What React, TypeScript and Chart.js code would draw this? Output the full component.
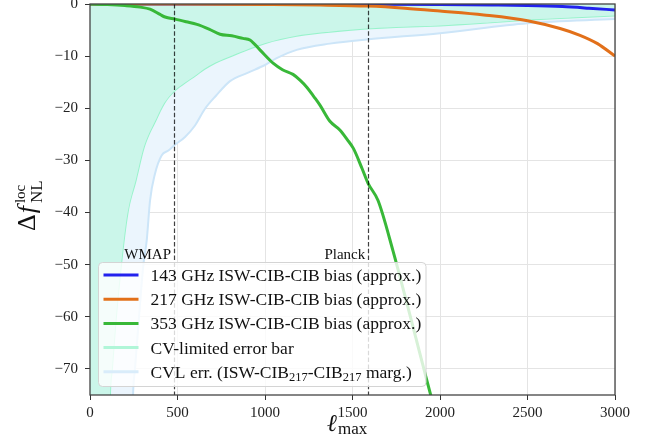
import React, { useEffect, useRef } from "react";
import { Chart, registerables } from "chart.js";
Chart.register(...registerables);

const SERIF = '"Liberation Serif", "DejaVu Serif", serif';

const xTicks = [0, 500, 1000, 1500, 2000, 2500, 3000];
const yTicks = [0, -10, -20, -30, -40, -50, -60, -70];

// 143 GHz ISW-CIB-CIB bias
const ell143 = [0, 500, 1000, 1500, 2000, 2300, 2500, 2700, 2850, 3000];
const bias143 = [0, 0, -0.02, -0.05, -0.1, -0.2, -0.3, -0.5, -0.8, -1.15];

// 217 GHz ISW-CIB-CIB bias
const ell217 = [0, 500, 1000, 1314, 1589, 1800, 2000, 2250, 2500, 2686, 2800, 2900, 3000];
const bias217 = [0, -0.02, -0.1, -0.2, -0.4, -0.8, -1.35, -2.1, -3.2, -4.7, -6.0, -7.6, -10.0];

// 353 GHz ISW-CIB-CIB bias
const ell353 = [0, 100, 200, 286, 343, 400, 429, 486, 550, 611, 680, 743, 810, 874, 914, 971, 1048, 1100, 1160, 1200, 1240, 1280, 1314, 1371, 1429, 1470, 1505, 1554, 1589, 1646, 1731, 1800, 1900, 1950, 2000];
const bias353 = [0, -0.1, -0.3, -0.6, -1.0, -2.0, -2.5, -2.9, -3.4, -3.9, -4.8, -5.8, -6.1, -6.6, -6.9, -8.8, -11.4, -12.6, -13.5, -14.6, -16.0, -17.8, -19.4, -22.5, -24.2, -26.0, -27.7, -31.5, -34.4, -37.7, -47.3, -56.0, -69.0, -75.4, -82.0];

// CV-limited error bar
const ellCV = [0, 60, 100, 120, 131, 154, 183, 219, 267, 314, 381, 429, 482, 543, 600, 657, 720, 819, 900, 1000, 1181, 1371, 1581, 1750, 2000, 2250, 2500, 2750, 3000];
const errCV = [-5000, -400, -110, -75, -70, -60, -50, -40.3, -33.8, -27.4, -22.3, -19.1, -16.9, -15.3, -14.0, -12.6, -11.4, -10.0, -8.9, -7.7, -6.3, -5.5, -4.9, -4.6, -4.3, -3.8, -3.2, -2.8, -2.4];

// CVL err. (ISW-CIB217-CIB217 marg.)
const ellCVL = [0, 150, 200, 246, 257, 280, 305, 324, 343, 371, 410, 448, 482, 543, 600, 657, 720, 800, 900, 1000, 1067, 1181, 1371, 1581, 2000, 2500, 3000];
const errCVL = [-8000, -400, -150, -75, -70, -60, -50, -45.4, -37.7, -32.6, -29.0, -28.1, -27.1, -25.5, -23.3, -20.1, -17.6, -14.8, -13.2, -11.7, -10.4, -8.8, -7.6, -6.8, -5.6, -3.7, -2.9];

const refLines = [480, 1590];
const refLabels = ["WMAP", "Planck"];

const legendLabels: Array<Array<[string, boolean]>> = [
  [["143 GHz ISW-CIB-CIB bias (approx.)", false]],
  [["217 GHz ISW-CIB-CIB bias (approx.)", false]],
  [["353 GHz ISW-CIB-CIB bias (approx.)", false]],
  [["CV-limited error bar", false]],
  [["CVL err. (ISW-CIB", false], ["217", true], ["-CIB", false], ["217", true], [" marg.)", false]],
];

const C143 = "#2222ee";
const C217 = "#e2701a";
const C353 = "#38b838";
const CCV = "#98f3cb";
const CCV_FILL = "#cbf6ea";
const CCVL = "#cce5f8";
const CCVL_FILL = "#ebf5fd";

const legendStyles = [
  { color: C143, width: 3 },
  { color: C217, width: 3 },
  { color: C353, width: 3 },
  { color: "#b0f6d8", width: 3 },
  { color: "#d9ecfa", width: 3 },
];

const pts = (xs: number[], ys: number[]) => xs.map((x, i) => ({ x, y: ys[i] }));

const overlay = {
  id: "overlay",
  afterDatasetsDraw(chart: any) {
    const { ctx, chartArea: a, scales } = chart;
    const x = scales.x;
    ctx.save();
    ctx.setLineDash([4.5, 2.3]);
    ctx.strokeStyle = "rgba(0,0,0,0.75)";
    ctx.lineWidth = 1.2;
    refLines.forEach((v) => {
      const px = Math.round(x.getPixelForValue(v)) + 0.5;
      ctx.beginPath();
      ctx.moveTo(px, a.top);
      ctx.lineTo(px, a.bottom);
      ctx.stroke();
    });
    ctx.setLineDash([]);
    ctx.fillStyle = "#111";
    ctx.font = `15px ${SERIF}`;
    ctx.textAlign = "right";
    ctx.textBaseline = "alphabetic";
    refLabels.forEach((t, i) => {
      ctx.fillText(t, x.getPixelForValue(refLines[i]) - 3, a.top + 255);
    });
    ctx.strokeStyle = "#444";
    ctx.lineWidth = 1.3;
    ctx.strokeRect(a.left, a.top, a.right - a.left, a.bottom - a.top);
    ctx.restore();
  },
  afterDraw(chart: any) {
    const { ctx, chartArea: a } = chart;
    ctx.save();
    // legend
    const lx = a.left + 8.5, ly = a.bottom - 132.5, lw = 327.5, lh = 124;
    ctx.beginPath();
    ctx.roundRect(lx, ly, lw, lh, 4);
    ctx.fillStyle = "rgba(255,255,255,0.8)";
    ctx.fill();
    ctx.strokeStyle = "#d4d4d4";
    ctx.lineWidth = 1;
    ctx.stroke();
    legendLabels.forEach((parts, i) => {
      const cy = ly + 12.5 + i * 24.2;
      const st = legendStyles[i];
      ctx.strokeStyle = st.color;
      ctx.lineWidth = st.width;
      ctx.beginPath();
      ctx.moveTo(lx + 5, cy);
      ctx.lineTo(lx + 40, cy);
      ctx.stroke();
      let tx = lx + 52;
      ctx.fillStyle = "#111";
      ctx.textAlign = "left";
      ctx.textBaseline = "alphabetic";
      parts.forEach(([t, sub]) => {
        ctx.font = sub ? `12.5px ${SERIF}` : `17.5px ${SERIF}`;
        ctx.fillText(t, tx, cy + 6 + (sub ? 3.5 : 0));
        tx += ctx.measureText(t).width;
      });
    });
    // y-axis title
    ctx.save();
    ctx.translate(35, 231);
    ctx.rotate(-Math.PI / 2);
    ctx.fillStyle = "#111";
    ctx.textAlign = "left";
    ctx.textBaseline = "alphabetic";
    let px = 0;
    ctx.font = `26px ${SERIF}`;
    ctx.fillText("\u0394", px, 0);
    px += ctx.measureText("\u0394").width + 1;
    ctx.font = `italic 26px ${SERIF}`;
    ctx.fillText("f", px, 0);
    px += ctx.measureText("f").width + 3;
    ctx.font = `15px ${SERIF}`;
    ctx.fillText("loc", px, -10);
    ctx.font = `17px ${SERIF}`;
    ctx.fillText("NL", px, 7);
    ctx.restore();
    // x-axis title
    ctx.fillStyle = "#111";
    ctx.textAlign = "left";
    ctx.font = `italic 24px ${SERIF}`;
    const xs = 327;
    ctx.fillText("\u2113", xs, 431);
    const w = ctx.measureText("\u2113").width;
    ctx.font = `17px ${SERIF}`;
    ctx.fillText("max", xs + w + 1, 434);
    ctx.restore();
  },
};

export default function App() {
  const ref = useRef<HTMLCanvasElement>(null);
  useEffect(() => {
    document.body.style.margin = "0";
    const canvas = ref.current!;
    const tickFont = { family: SERIF, size: 15 };
    const chart = new Chart(canvas, {
      type: "line",
      data: {
        datasets: [
          { label: "143", data: pts(ell143, bias143), borderColor: C143, borderWidth: 3, pointRadius: 0, fill: false, cubicInterpolationMode: "monotone", order: 2 },
          { label: "217", data: pts(ell217, bias217), borderColor: C217, borderWidth: 3, pointRadius: 0, fill: false, cubicInterpolationMode: "monotone", order: 1 },
          { label: "353", data: pts(ell353, bias353), borderColor: C353, borderWidth: 3, pointRadius: 0, fill: false, cubicInterpolationMode: "monotone", order: 0 },
          { label: "CV", data: pts(ellCV, errCV), borderColor: CCV, backgroundColor: CCV_FILL, borderWidth: 2, pointRadius: 0, fill: "end", cubicInterpolationMode: "monotone", order: 4 },
          { label: "CVL", data: pts(ellCVL, errCVL), borderColor: CCVL, backgroundColor: CCVL_FILL, borderWidth: 2, pointRadius: 0, fill: 3, cubicInterpolationMode: "monotone", order: 3 },
        ],
      },
      options: {
        animation: false,
        responsive: false,
        devicePixelRatio: 1,
        parsing: false,
        layout: { padding: { top: 4, right: 39, left: 0, bottom: 0 } },
        plugins: { legend: { display: false }, tooltip: { enabled: false } },
        scales: {
          x: {
            type: "linear",
            min: 0,
            max: 3000,
            afterBuildTicks: (s: any) => { s.ticks = xTicks.map((v) => ({ value: v })); },
            afterFit: (s: any) => { s.height = 53; s.paddingLeft = 0; s.paddingRight = 0; },
            ticks: { font: tickFont, color: "#222", padding: 4, maxRotation: 0, callback: (v: any) => String(v) },
            grid: { color: "#e4e4e4", lineWidth: 1, tickLength: 5, tickColor: "#333", drawOnChartArea: true },
            border: { display: false },
          },
          y: {
            type: "linear",
            min: -75,
            max: 0,
            afterBuildTicks: (s: any) => { s.ticks = yTicks.map((v) => ({ value: v })); },
            afterFit: (s: any) => { s.width = 90; s.paddingTop = 0; s.paddingBottom = 0; },
            ticks: { font: tickFont, color: "#222", padding: 7, callback: (v: any) => (v < 0 ? "\u2212" + Math.abs(v) : String(v)) },
            grid: { color: "#e4e4e4", lineWidth: 1, tickLength: 5, tickColor: "#333", drawOnChartArea: true },
            border: { display: false },
          },
        },
      },
      plugins: [overlay],
    } as any);
    return () => chart.destroy();
  }, []);
  return (
    <div style={{ position: "absolute", left: 0, top: 0, width: 654, height: 448, background: "#fff" }}>
      <canvas ref={ref} width={654} height={448} style={{ display: "block" }} />
    </div>
  );
}
